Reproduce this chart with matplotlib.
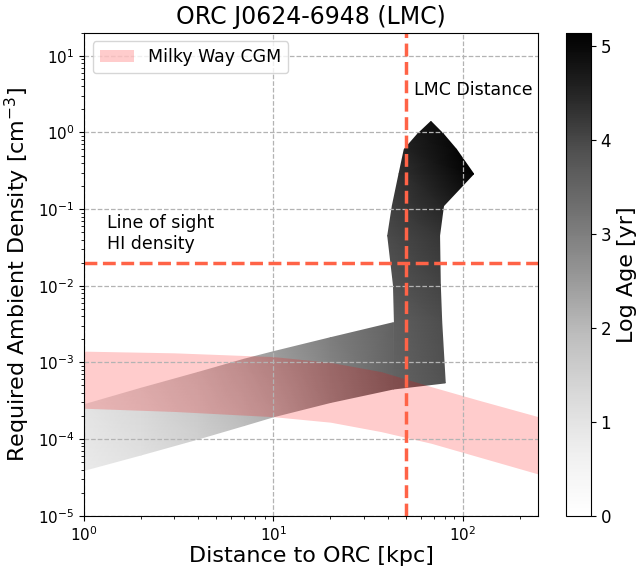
import numpy as np
import matplotlib
matplotlib.use("Agg")
import matplotlib.pyplot as plt
from matplotlib.colors import Normalize
from matplotlib.patches import Patch

# ---- data ----
# lower (sloped) part of the age-coloured solution region
band_x = [1, 2, 4, 7, 10, 20, 43]
band_lo = [3.9e-5, 6.2e-5, 1.0e-4, 1.5e-4, 1.95e-4, 3.0e-4, 4.5e-4]
band_hi = [2.8e-4, 4.6e-4, 7.4e-4, 1.1e-3, 1.38e-3, 2.1e-3, 3.3e-3]
band_age_lo = [0.8, 1.1, 1.5, 1.9, 2.15, 2.8, 3.5]
band_age_hi = [1.0, 1.35, 1.8, 2.2, 2.45, 3.0, 3.55]

# vertical column + cap of the region (rows bottom -> top)
col_xl = [43, 43.5, 43, 40.1, 42.4, 46, 49, 57.6, 67.8]
col_yl = [4.5e-4, 3.4e-3, 0.0102, 0.045, 0.11, 0.288, 0.6, 0.95, 1.39]
col_xr = [80.7, 77.3, 76, 75.3, 79, 113.9, 92.5, 79, 67.8]
col_yr = [5.4e-4, 3.4e-3, 0.0102, 0.045, 0.11, 0.288, 0.6, 0.95, 1.39]
col_age_l = [3.5, 3.6, 3.8, 3.95, 4.1, 4.3, 4.5, 4.7, 4.85]
col_age_r = [3.85, 3.9, 4.05, 4.25, 4.5, 5.1, 5.0, 4.9, 4.85]

# Milky Way CGM band
cgm_x = [1, 3, 10, 20, 37, 68, 120, 250]
cgm_lo_log = [-3.598, -3.64, -3.708, -3.78, -3.903, -4.055, -4.23, -4.456]
cgm_hi_log = [-2.853, -2.875, -2.924, -3.0, -3.12, -3.316, -3.49, -3.708]

lmc_distance = 50.0
hi_density = 0.02
age_min, age_max = 0.0, 5.14

# ---- figure ----
fig = plt.figure(figsize=(6.38, 5.72), dpi=100)
ax = fig.add_axes([0.1317, 0.0984, 0.712, 0.8444])
cax = fig.add_axes([0.887, 0.0984, 0.039, 0.8444])

norm = Normalize(vmin=age_min, vmax=age_max)
cmap = plt.get_cmap("Greys")

X1 = np.array([band_x, band_x], dtype=float)
Y1 = np.array([band_lo, band_hi])
C1 = np.array([band_age_lo, band_age_hi])
m1 = ax.pcolormesh(X1, Y1, C1, shading="gouraud", cmap=cmap, norm=norm,
                   antialiased=False, rasterized=True)

X2 = np.array([col_xl, col_xr]).T
Y2 = np.array([col_yl, col_yr]).T
C2 = np.array([col_age_l, col_age_r]).T
ax.pcolormesh(X2, Y2, C2, shading="gouraud", cmap=cmap, norm=norm,
              antialiased=False, rasterized=True)

ax.fill_between(cgm_x, 10 ** np.array(cgm_lo_log), 10 ** np.array(cgm_hi_log),
                color="red", alpha=0.2, linewidth=0)

ax.axvline(lmc_distance, color="tomato", ls="--", lw=2.5)
ax.axhline(hi_density, color="tomato", ls="--", lw=2.5)

ax.set_xscale("log")
ax.set_yscale("log")
ax.set_xlim(1, 250)
ax.set_ylim(1e-5, 20)
ax.grid(True, which="major", ls="--", color="0.7", lw=0.9)

ax.text(55.4, 3.6, "LMC Distance", fontsize=12.5, va="center", ha="left")
ax.text(1.32, 0.027, "Line of sight\nHI density", fontsize=12.5, va="bottom", ha="left")

ax.set_title("ORC J0624-6948 (LMC)", fontsize=17)
ax.set_xlabel("Distance to ORC [kpc]", fontsize=16, labelpad=1)
ax.set_ylabel("Required Ambient Density [cm$^{-3}$]", fontsize=16)
ax.tick_params(labelsize=11)

ax.legend(handles=[Patch(facecolor="red", alpha=0.2, label="Milky Way CGM")],
          loc="upper left", fontsize=12.5)

cb = fig.colorbar(m1, cax=cax)
cb.set_label("Log Age [yr]", fontsize=16)
cb.ax.tick_params(labelsize=12)

fig.savefig("out.png", dpi=100)
